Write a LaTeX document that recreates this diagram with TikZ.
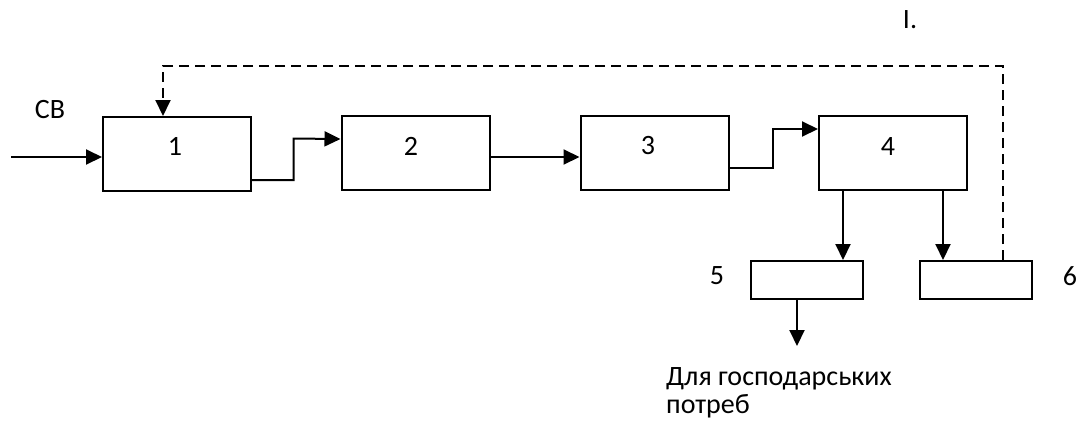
\documentclass[tikz,border=0pt]{standalone}
\usepackage{fontspec}
\setmainfont{Carlito}
\usetikzlibrary{arrows.meta,calc}
\begin{document}
\begin{tikzpicture}[x=1pt,y=-1pt,
  blk/.style={draw,line width=2pt,inner sep=0pt},
  bigblk/.style={blk,minimum width=148pt,minimum height=74pt},
  smallblk/.style={blk,minimum width=112pt,minimum height=38pt},
  lbl/.style={font=\fontsize{28}{31}\selectfont,inner sep=0pt},
  flow/.style={line width=2pt,-{Triangle[length=16pt,width=15pt]}},
  back/.style={flow,dash pattern=on 10pt off 6pt}]
\useasboundingbox (0,0) rectangle (1082,421);

% process blocks
\node[bigblk] (b1) at (177,154) {};
\node[bigblk] (b2) at (415.5,153) {};
\node[bigblk] (b3) at (654.5,153) {};
\node[bigblk] (b4) at (893,153) {};
\node[smallblk] (b5) at (807,280) {};
\node[smallblk] (b6) at (976,280) {};

% block numbers
\node[lbl] (n1) at (175,146) {1};
\node[lbl] (n2) at (411,146) {2};
\node[lbl] (n3) at (648,146) {3};
\node[lbl] (n4) at (888,147) {4};
\node[lbl] (n5) at (717,276) {5};
\node[lbl] (n6) at (1070,276) {6};

% other labels
\node[lbl] (cb) at (50,110) {СВ};
\node[lbl] (mark) at (910,20) {I.};
\node[lbl,anchor=base west] (use1) at (666,385) {Для господарських};
\node[lbl,anchor=base west] (use2) at (666,413) {потреб};

% free ends
\coordinate (inp) at (11,157);
\coordinate (out) at (797,346);

% main flow
\draw[flow] (inp) -- (inp -| b1.west);
\draw[flow] ($(b1.east)+(0,26)$) -| ($(b1.east)!0.47!(b2.west)+(0,-15)$) -- ($(b2.west)+(0,-14)$);
\draw[flow] ($(b2.east)+(0,4)$) -- ($(b3.west)+(0,4)$);
\draw[flow] ($(b3.east)+(0,15)$) -| ($(b3.east)!0.49!(b4.west)+(0,-24)$) -- ($(b4.west)+(0,-24)$);
\draw[flow] (b4.south -| b5.north east) ++(-21,0) coordinate (d5) -- (d5 |- b5.north);
\draw[flow] (b4.south -| b6.north west) ++(24,0) coordinate (d6) -- (d6 |- b6.north);
\draw[flow] (b5.south -| out) -- (out);

% recycle line
\coordinate (r0) at ($(b6.north east)+(-30,0)$);
\draw[back] (r0) -- (r0 |- 0,66) -| ($(b1.north)+(-14,0)$);
\end{tikzpicture}
\end{document}
